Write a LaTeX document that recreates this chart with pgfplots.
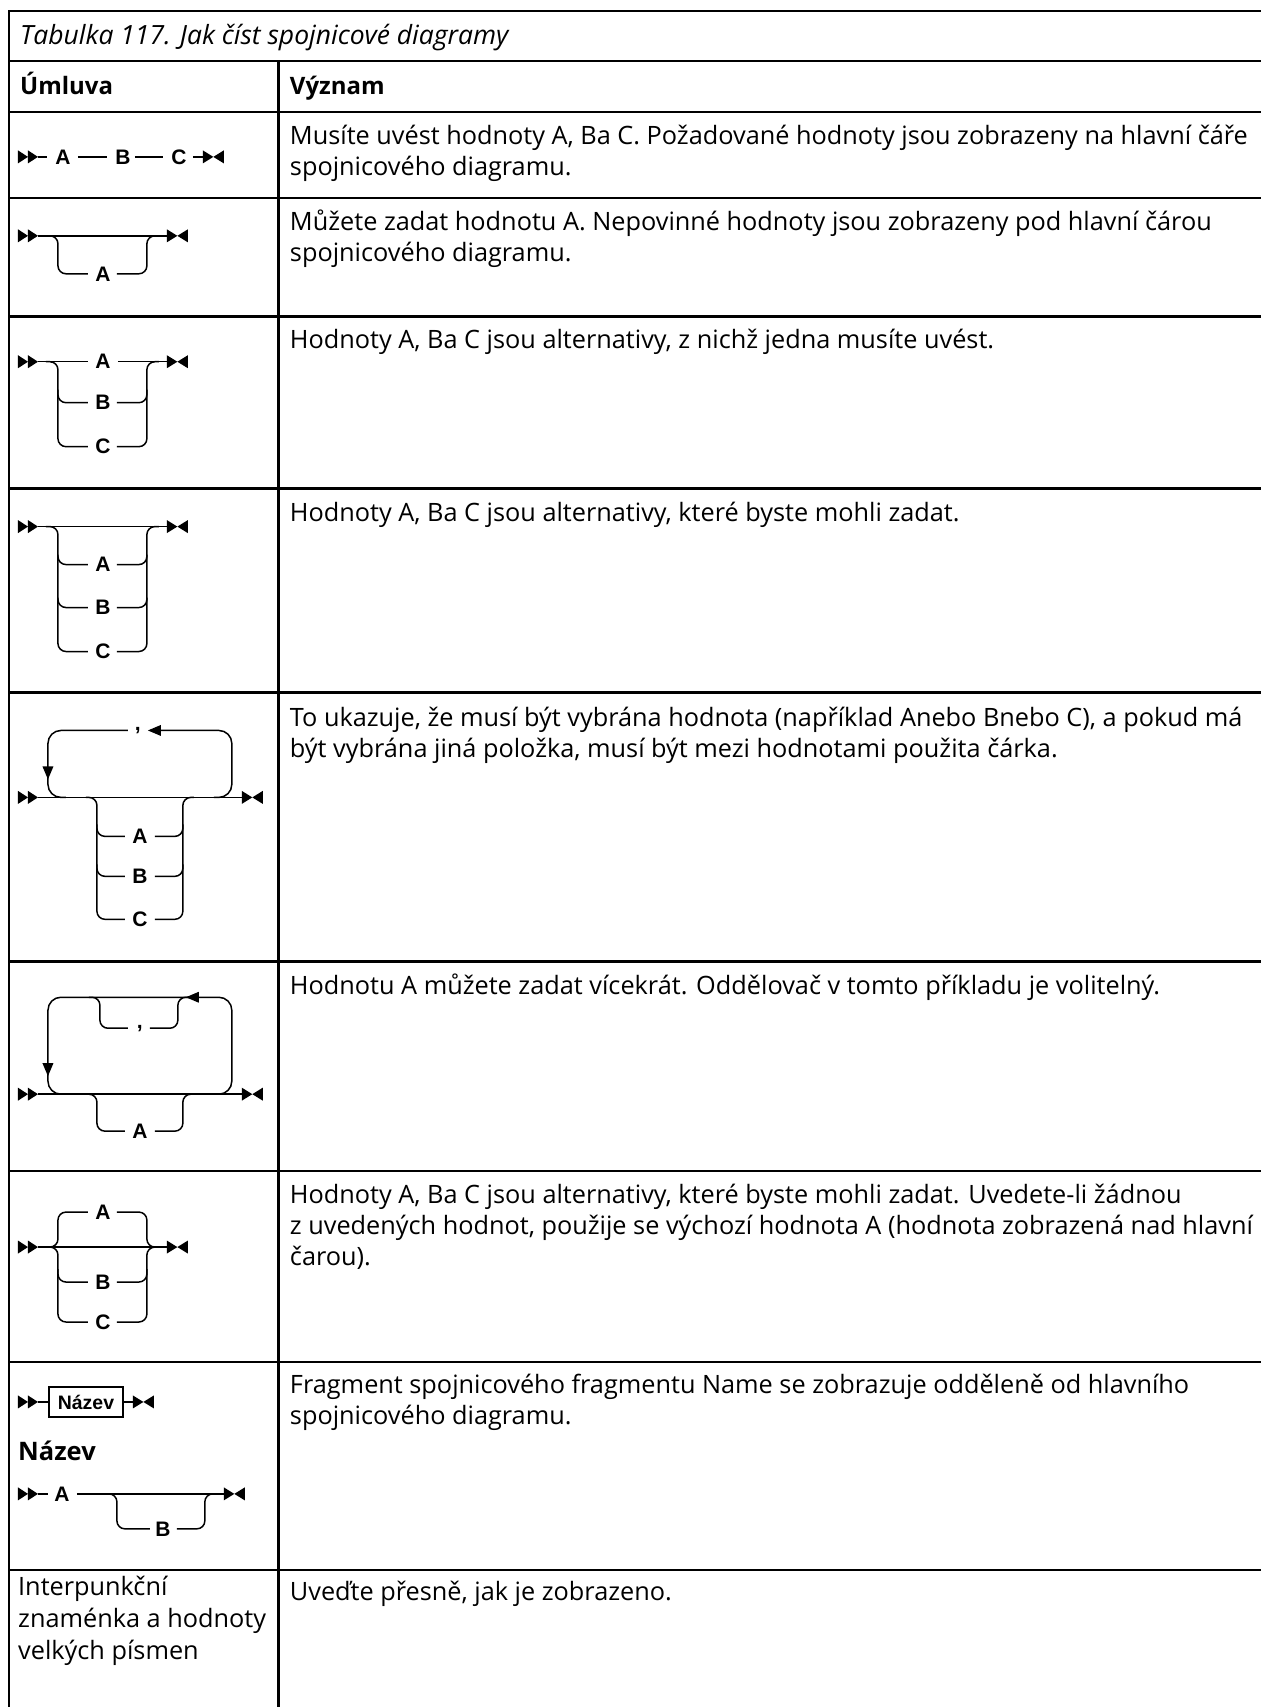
\documentclass[border=0pt]{standalone}
\usepackage{fontspec}
\setmainfont{Open Sans}
\newfontfamily\dfont{Liberation Sans}
\usepackage{pgfplots}
\pgfplotsset{compat=1.18}
\newcommand\tx{\fontsize{25.3}{30}\selectfont}
\newcommand\hx{\fontsize{24}{30}\selectfont\bfseries}
\newcommand\lx{\dfont\fontsize{21}{24}\selectfont\bfseries}
\pgfplotsset{dl/.style={black,line width=1.5pt,mark=none},
 tl/.style={black,line width=2.6pt,mark=none}}
\newcommand\rp[1]{\addplot[dl,rounded corners=8pt] coordinates {#1};}
\newcommand\sg[4]{\addplot[dl] coordinates {(#1,#2) (#3,#4)};}
\newcommand\hl[1]{\addplot[tl] coordinates {(9,#1) (1262,#1)};}
\newcommand\startm[2]{%
 \pgfmathsetmacro\ma{#1+10}\pgfmathsetmacro\mb{#1+20}%
 \pgfmathsetmacro\yu{#2-6.5}\pgfmathsetmacro\yd{#2+6.5}%
 \addplot[fill=black,draw=none] coordinates {(#1,\yu) (\ma,#2) (#1,\yd)} -- cycle;
 \addplot[fill=black,draw=none] coordinates {(\ma,\yu) (\mb,#2) (\ma,\yd)} -- cycle;}
\newcommand\stopm[2]{%
 \pgfmathsetmacro\ma{#1+10.5}\pgfmathsetmacro\mb{#1+21}%
 \pgfmathsetmacro\yu{#2-6.5}\pgfmathsetmacro\yd{#2+6.5}%
 \addplot[fill=black,draw=none] coordinates {(#1,\yu) (\ma,#2) (#1,\yd)} -- cycle;
 \addplot[fill=black,draw=none] coordinates {(\mb,\yu) (\ma,#2) (\mb,\yd)} -- cycle;}
\newcommand\downa[2]{%
 \pgfmathsetmacro\ma{#1-5.5}\pgfmathsetmacro\mb{#1+5.5}\pgfmathsetmacro\yu{#2-13}%
 \addplot[fill=black,draw=none] coordinates {(\ma,\yu) (\mb,\yu) (#1,#2)} -- cycle;}
\newcommand\lefta[2]{%
 \pgfmathsetmacro\ma{#1+13}\pgfmathsetmacro\yu{#2-5.5}\pgfmathsetmacro\yd{#2+5.5}%
 \addplot[fill=black,draw=none] coordinates {(#1,#2) (\ma,\yu) (\ma,\yd)} -- cycle;}
\newcommand\lab[3]{\node[font=\lx,inner sep=0pt] at (axis cs:#1,#2) {#3};}
\newcommand\txt[3]{\node[font=\tx,anchor=base west,inner sep=0pt] at (axis cs:#1,#2) {#3};}
\begin{document}
\begin{tikzpicture}
\begin{axis}[scale only axis,width=1262pt,height=1708pt,
 xmin=0,xmax=1262,ymin=0,ymax=1708,y dir=reverse,
 axis lines=none,ticks=none,clip=false]
\addplot[draw=none] coordinates {(0,0) (1262,1708)};
% table rules
\addplot[tl] coordinates {(9,1708) (9,11) (1262,11)};
\hl{61}\hl{112}\hl{198}\hl{317}\hl{489}\hl{693}\hl{962}\hl{1172}\hl{1363}\hl{1571}
\addplot[tl] coordinates {(279,61) (279,1708)};
% headings
\node[font=\fontsize{26.5}{30}\selectfont\itshape,anchor=base west,inner sep=0pt] at (axis cs:20,45) {Tabulka 117. Jak číst spojnicové diagramy};
\node[font=\hx,anchor=base west,inner sep=0pt] at (axis cs:20,95) {Úmluva};
\node[font=\hx,anchor=base west,inner sep=0pt] at (axis cs:290,95) {Význam};
% right column text
\txt{290}{145}{Musíte uvést hodnoty A, Ba C. Požadované hodnoty jsou zobrazeny na hlavní čáře}
\txt{290}{176}{spojnicového diagramu.}
\txt{290}{231}{Můžete zadat hodnotu A. Nepovinné hodnoty jsou zobrazeny pod hlavní čárou}
\txt{290}{262}{spojnicového diagramu.}
\txt{290}{349}{Hodnoty A, Ba C jsou alternativy, z nichž jedna musíte uvést.}
\txt{290}{522}{Hodnoty A, Ba C jsou alternativy, které byste mohli zadat.}
\txt{290}{727}{To ukazuje, že musí být vybrána hodnota (například Anebo Bnebo C), a pokud má}
\txt{290}{758}{být vybrána jiná položka, musí být mezi hodnotami použita čárka.}
\txt{290}{995}{Hodnotu A můžete zadat vícekrát. Oddělovač v tomto příkladu je volitelný.}
\txt{290}{1204}{Hodnoty A, Ba C jsou alternativy, které byste mohli zadat. Uvedete-li žádnou}
\txt{290}{1235}{z uvedených hodnot, použije se výchozí hodnota A (hodnota zobrazená nad hlavní}
\txt{290}{1266}{čarou).}
\txt{290}{1395}{Fragment spojnicového fragmentu Name se zobrazuje odděleně od hlavního}
\txt{290}{1426}{spojnicového diagramu.}
\txt{290}{1602}{Uveďte přesně, jak je zobrazeno.}
\txt{18}{1597}{Interpunkční}
\txt{18}{1629}{znaménka a hodnoty}
\txt{18}{1661}{velkých písmen}
% ---- row 1
\startm{18}{157}
\sg{38}{157}{47}{157}\lab{63}{157}{A}
\sg{78}{157}{107}{157}\lab{123}{157}{B}
\sg{135}{157}{163}{157}\lab{179}{157}{C}
\sg{193}{157}{203}{157}\stopm{203}{157}
% ---- row 2
\startm{18}{236}\sg{38}{236}{167}{236}\stopm{167}{236}
\rp{(46,236) (58,236) (58,274) (88,274)}\lab{103}{274}{A}
\rp{(117,274) (147,274) (147,236) (159,236)}
% ---- row 3
\startm{18}{362}\sg{38}{362}{88}{362}\lab{103}{362}{A}\sg{118}{362}{167}{362}\stopm{167}{362}
\rp{(46,362) (58,362) (58,403) (88,403)}\rp{(58,390) (58,447) (88,447)}
\rp{(117,403) (147,403) (147,362) (159,362)}\rp{(117,447) (147,447) (147,390)}
\lab{103}{403}{B}\lab{103}{447}{C}
% ---- row 4
\startm{18}{527}\sg{38}{527}{167}{527}\stopm{167}{527}
\rp{(46,527) (58,527) (58,565) (88,565)}\rp{(58,555) (58,608) (88,608)}\rp{(58,598) (58,652) (88,652)}
\rp{(117,565) (147,565) (147,527) (159,527)}\rp{(117,608) (147,608) (147,555)}\rp{(117,652) (147,652) (147,598)}
\lab{103}{565}{A}\lab{103}{608}{B}\lab{103}{652}{C}
% ---- row 5
\startm{18}{798}\sg{38}{798}{242}{798}\stopm{242}{798}
\addplot[dl,rounded corners=13pt] coordinates {(214,798) (232,798) (232,731) (160,731)};
\lefta{148}{731}
\node[font=\lx,inner sep=0pt,anchor=base] at (axis cs:138,731) {,};
\addplot[dl,rounded corners=13pt] coordinates {(128,731) (48,731) (48,798) (66,798)};
\downa{48}{780}
\rp{(86,798) (97,798) (97,837) (125,837)}\rp{(97,825) (97,877) (125,877)}\rp{(97,865) (97,920) (125,920)}
\rp{(155,837) (183,837) (183,798) (194,798)}\rp{(155,877) (183,877) (183,825)}\rp{(155,920) (183,920) (183,865)}
\lab{140}{837}{A}\lab{140}{877}{B}\lab{140}{920}{C}
% ---- row 6
\startm{18}{1095}\sg{38}{1095}{242}{1095}\stopm{242}{1095}
\addplot[dl,rounded corners=13pt] coordinates {(214,1095) (232,1095) (232,998) (48,998) (48,1095) (66,1095)};
\downa{48}{1077}
\lefta{186}{998}
\rp{(89,998) (100,998) (100,1029) (128,1029)}
\rp{(150,1029) (178,1029) (178,998) (189,998)}
\node[font=\lx,inner sep=0pt,anchor=base] at (axis cs:140,1029) {,};
\rp{(86,1095) (97,1095) (97,1132) (125,1132)}\rp{(155,1132) (183,1132) (183,1095) (194,1095)}
\lab{140}{1132}{A}
% ---- row 7
\startm{18}{1248}\sg{38}{1248}{167}{1248}\stopm{167}{1248}
\rp{(46,1248) (58,1248) (58,1213) (88,1213)}\rp{(117,1213) (147,1213) (147,1248) (159,1248)}
\rp{(46,1248) (58,1248) (58,1283) (88,1283)}\rp{(58,1270) (58,1323) (88,1323)}
\rp{(117,1283) (147,1283) (147,1248) (159,1248)}\rp{(117,1323) (147,1323) (147,1270)}
\lab{103}{1213}{A}\lab{103}{1283}{B}\lab{103}{1323}{C}
% ---- row 8
\startm{18}{1403}\sg{38}{1403}{49}{1403}
\addplot[black,line width=1.3pt,mark=none] coordinates {(49,1388) (123,1388) (123,1418) (49,1418)} -- cycle;
\node[font=\dfont\fontsize{19.5}{20}\selectfont\bfseries,inner sep=0pt] at (axis cs:86,1403) {Název};
\sg{123}{1403}{133}{1403}\stopm{133}{1403}
\node[font=\fontsize{25.5}{28}\selectfont\bfseries,anchor=base west,inner sep=0pt] at (axis cs:18,1462) {Název};
\startm{18}{1495}\sg{38}{1495}{48}{1495}\lab{62}{1495}{A}\sg{77}{1495}{224}{1495}\stopm{224}{1495}
\rp{(106,1495) (117,1495) (117,1530) (150,1530)}\rp{(177,1530) (205,1530) (205,1495) (216,1495)}
\lab{163}{1530}{B}
\end{axis}
\end{tikzpicture}
\end{document}
